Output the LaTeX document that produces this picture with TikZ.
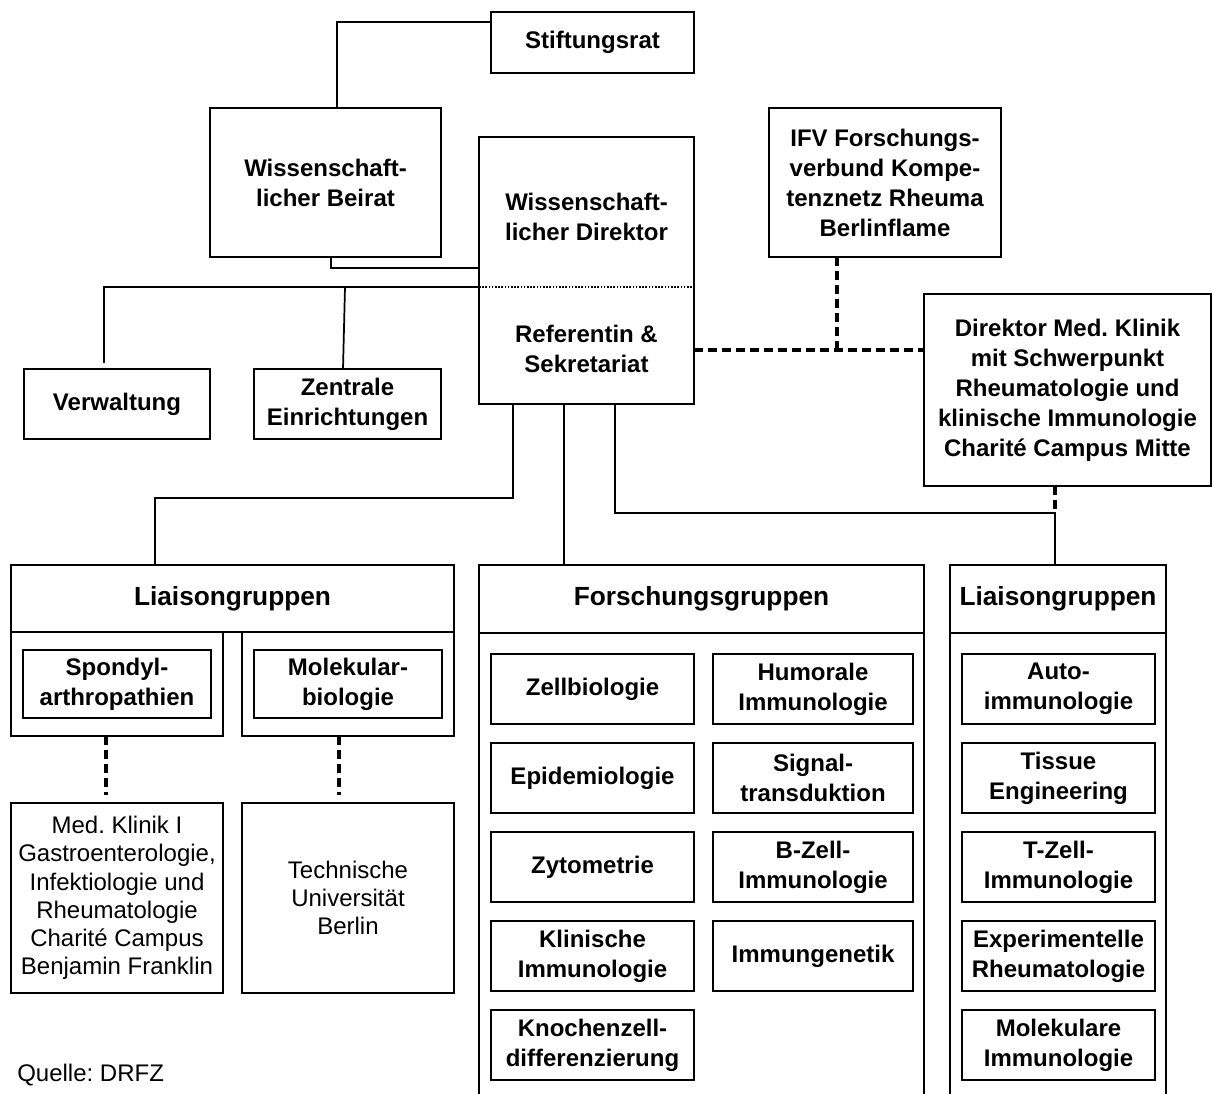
\documentclass[tikz,border=0pt]{standalone}
\usepackage{fontspec}
\setmainfont{Liberation Sans}
\usetikzlibrary{calc}
\frenchspacing
\tikzset{
  bx/.style={draw, line width=1.2pt, inner sep=0pt, outer sep=0pt, align=center, font=\bfseries\fontsize{18}{22.5}\selectfont},
  hd/.style={bx, font=\bfseries\fontsize{19.7}{23}\selectfont},
  rg/.style={bx, font=\fontsize{18}{21.2}\selectfont},
  fr/.style={draw, line width=1.2pt, inner sep=0pt, outer sep=0pt},
  conn/.style={line width=1.3pt},
  dconn/.style={line width=2.3pt, dash pattern=on 7pt off 3.5pt},
  dotl/.style={line width=1.4pt, dash pattern=on 1.2pt off 1.2pt},
  lbl/.style={align=center, inner sep=0pt, font=\bfseries\fontsize{18}{22.5}\selectfont},
}
\newcommand\mkbox[7]{%
  \node[#1, minimum width={(#5-#3)*0.75pt}, minimum height={(#6-#4)*0.75pt}] (#2) at ({(#3+#5)/2},{(#4+#6)/2}) {#7};}
\begin{document}
\begin{tikzpicture}[x=0.75pt,y=-0.75pt]
\fill[white] (0,0) rectangle (1213,1093);
\useasboundingbox (0,0) rectangle (1213,1093);

% top part
\mkbox{bx}{sr}{491}{12}{694}{73}{Stiftungsrat}
\mkbox{bx}{wb}{210}{108}{441}{257}{Wissenschaft-\\licher Beirat}
\mkbox{fr}{dir}{479}{137}{694}{404}{}
\node[lbl] (dirA) at (586.5,217) {Wissenschaft-\\licher Direktor};
\node[lbl] (dirB) at (586.5,349) {Referentin \&\\Sekretariat};
\mkbox{bx}{ifv}{769}{108}{1001}{257}{IFV Forschungs-\\verbund Kompe-\\tenznetz Rheuma\\Berlinflame}
\mkbox{bx}{vw}{24}{369}{210}{439}{Verwaltung}
\mkbox{bx}{ze}{254}{369}{441}{439}{Zentrale\\Einrichtungen}
\mkbox{bx}{kl}{924}{294}{1211}{486}{Direktor Med. Klinik\\mit Schwerpunkt\\Rheumatologie und\\klinische Immunologie\\Charité Campus Mitte}

% left liaison groups
\mkbox{hd}{llh}{11}{565}{454}{632}{Liaisongruppen}
\mkbox{fr}{lls1}{11}{632}{223}{736}{}
\mkbox{fr}{lls2}{242}{632}{454}{736}{}
\mkbox{bx}{sp}{23}{650}{211}{718}{Spondyl-\\arthropathien}
\mkbox{bx}{mb}{254}{650}{442}{718}{Molekular-\\biologie}
\mkbox{rg}{mk}{11}{803}{223}{993}{Med. Klinik I\\Gastroenterologie,\\Infektiologie und\\Rheumatologie\\Charité Campus\\Benjamin Franklin}
\mkbox{rg}{tu}{242}{803}{454}{993}{Technische\\Universität\\Berlin}

% Forschungsgruppen
\mkbox{hd}{fgh}{479}{565}{924}{633}{Forschungsgruppen}
\draw[fr] (fgh.south west) -- ++(0,470);
\draw[fr] (fgh.south east) -- ++(0,470);
\mkbox{bx}{f1}{491}{654}{694}{724}{Zellbiologie}
\mkbox{bx}{f2}{713}{654}{913}{724}{Humorale\\Immunologie}
\mkbox{bx}{f3}{491}{743}{694}{813}{Epidemiologie}
\mkbox{bx}{f4}{713}{743}{913}{813}{Signal-\\transduktion}
\mkbox{bx}{f5}{491}{832}{694}{902}{Zytometrie}
\mkbox{bx}{f6}{713}{832}{913}{902}{B-Zell-\\Immunologie}
\mkbox{bx}{f7}{491}{921}{694}{991}{Klinische\\Immunologie}
\mkbox{bx}{f8}{713}{921}{913}{991}{Immungenetik}
\mkbox{bx}{f9}{491}{1010}{694}{1080}{Knochenzell-\\differenzierung}

% right liaison groups
\mkbox{hd}{rlh}{950}{565}{1166}{633}{Liaisongruppen}
\draw[fr] (rlh.south west) -- ++(0,470);
\draw[fr] (rlh.south east) -- ++(0,470);
\mkbox{bx}{r1}{962}{654}{1155}{724}{Auto-\\immunologie}
\mkbox{bx}{r2}{962}{743}{1155}{813}{Tissue\\Engineering}
\mkbox{bx}{r3}{962}{832}{1155}{902}{T-Zell-\\Immunologie}
\mkbox{bx}{r4}{962}{921}{1155}{991}{Experimentelle\\Rheumatologie}
\mkbox{bx}{r5}{962}{1010}{1155}{1080}{Molekulare\\Immunologie}

\node[anchor=base west, inner sep=0pt, font=\fontsize{18}{21}\selectfont] (q) at (17,1081) {Quelle: DRFZ};

% connectors
\draw[conn] ($(sr.north west)+(0,10)$) -| ($(wb.north west)+(127,0)$);
\draw[conn] ($(wb.south west)+(121,0)$) |- ($(dir.north west)+(0,131)$);
\draw[dotl] ($(dir.north west)+(0,150)$) -- ($(dir.north east)+(0,150)$);
\draw[conn] ($(dir.north west)+(0,150)$) -| ($(vw.north west)+(80,-6)$);
\draw[conn] ($(dir.north west)+(-134,150)$) -- ($(ze.north west)+(89,0)$);

\coordinate (jifv) at ($(ifv.south west)+(68,93)$);
\draw[dconn] ($(dir.north east)+(0,213)$) -- ($(kl.north west)+(0,56)$);
\draw[dconn] ($(ifv.south west)+(68,0)$) -- (jifv);

\draw[conn] ($(dir.south west)+(34,0)$) -- ++(0,94) -| ($(llh.north west)+(144,0)$);
\draw[conn] ($(dir.south west)+(85,0)$) -- ($(fgh.north west)+(85,0)$);
\coordinate (jkl) at ($(kl.south west)+(131,27)$);
\draw[conn] ($(dir.south west)+(136,0)$) |- (jkl) -- ($(rlh.north west)+(105,0)$);
\draw[dconn] ($(kl.south west)+(131,0)$) -- (jkl);

\draw[dconn] ($(lls1.south west)+(95,0)$) -- ($(mk.north west)+(95,-8)$);
\draw[dconn] ($(lls2.south west)+(97,0)$) -- ($(tu.north west)+(97,-8)$);
\end{tikzpicture}
\end{document}
